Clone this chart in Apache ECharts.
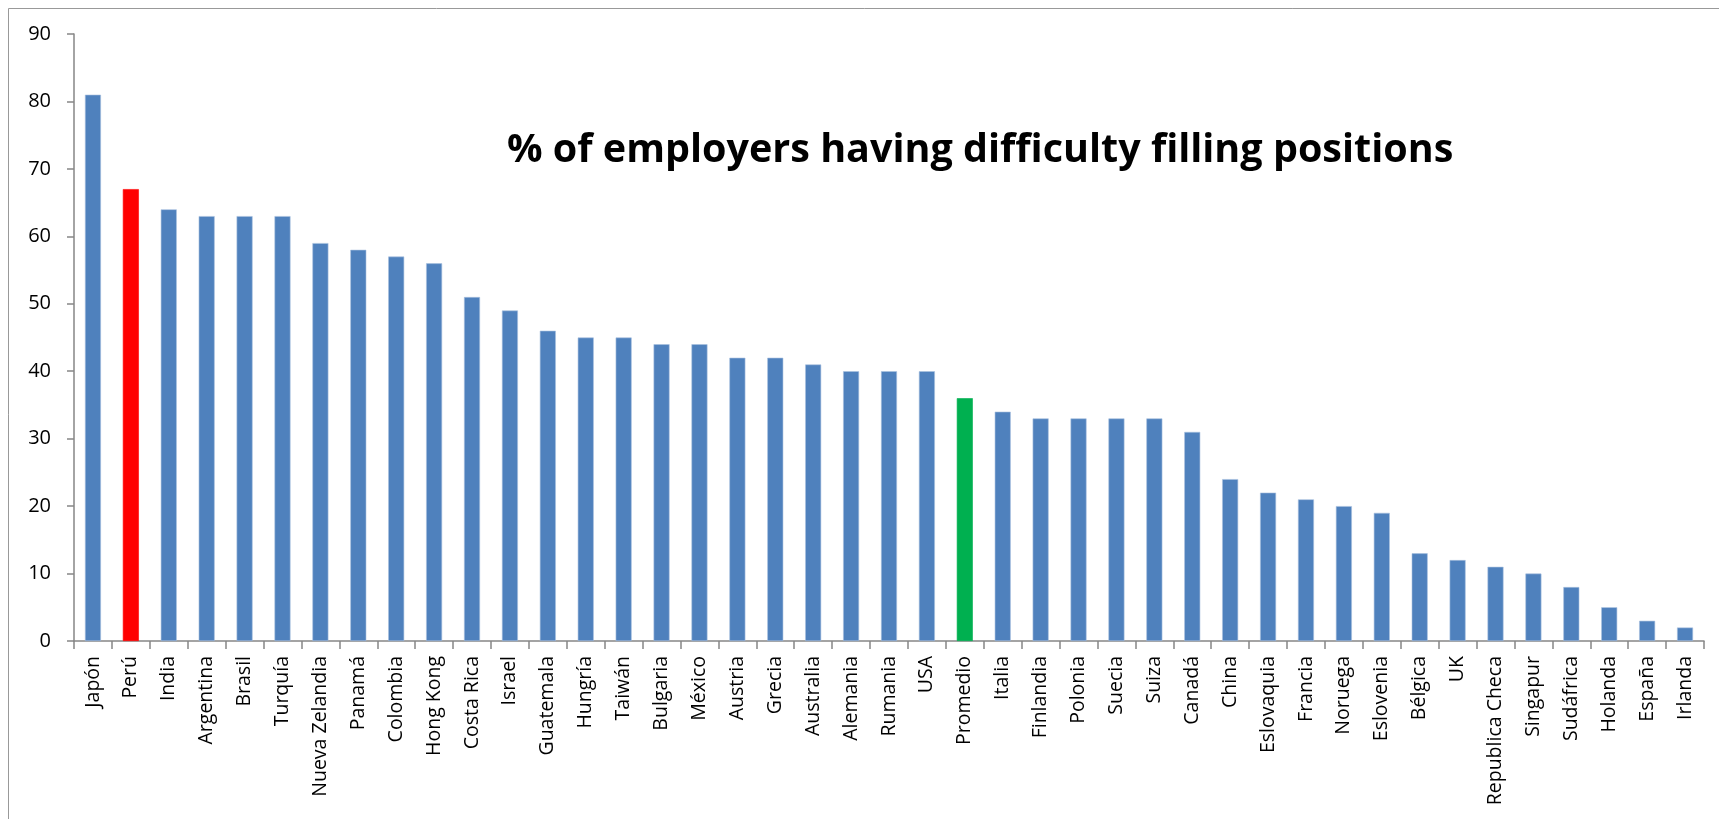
<!DOCTYPE html>
<html>
<head>
<meta charset="utf-8">
<script src="https://cdn.jsdelivr.net/npm/echarts@6/dist/echarts.min.js"></script>
<style>
  html, body { margin: 0; padding: 0; background: #fff; }
  #main { width: 1719px; height: 819px; }
</style>
</head>
<body>
<div id="main"></div>
<script>
// países y porcentajes
var countries = ['Japón', 'Perú', 'India', 'Argentina', 'Brasil', 'Turquía', 'Nueva Zelandia', 'Panamá',
  'Colombia', 'Hong Kong', 'Costa Rica', 'Israel', 'Guatemala', 'Hungría', 'Taiwán', 'Bulgaria', 'México',
  'Austria', 'Grecia', 'Australia', 'Alemania', 'Rumania', 'USA', 'Promedio', 'Italia', 'Finlandia',
  'Polonia', 'Suecia', 'Suiza', 'Canadá', 'China', 'Eslovaquia', 'Francia', 'Noruega', 'Eslovenia',
  'Bélgica', 'UK', 'Republica Checa', 'Singapur', 'Sudáfrica', 'Holanda', 'España', 'Irlanda'];
var values = [81, 67, 64, 63, 63, 63, 59, 58, 57, 56, 51, 49, 46, 45, 45, 44, 44, 42, 42, 41, 40, 40, 40,
  36, 34, 33, 33, 33, 33, 31, 24, 22, 21, 20, 19, 13, 12, 11, 10, 8, 5, 3, 2];
var highlight = { 'Perú': '#FF0000', 'Promedio': '#00B050' };
var titleText = '% of employers having difficulty filling positions';

var myChart = echarts.init(document.getElementById('main'));

var barData = countries.map(function (c, i) {
  var d = { value: values[i] };
  if (highlight[c]) {
    d.itemStyle = { color: highlight[c], borderColor: highlight[c] };
  }
  return d;
});

var option = {
  animation: false,
  textStyle: { fontFamily: 'Open Sans' },
  graphic: [
    {
      type: 'rect',
      shape: { x: 8.5, y: 8.5, width: 1730, height: 830 },
      style: { fill: 'none', stroke: '#999', lineWidth: 1 },
      silent: true
    },
    {
      type: 'text',
      left: 507,
      top: 131,
      style: {
        text: titleText,
        fontFamily: 'Open Sans',
        fontWeight: 'bold',
        fontSize: 39.5,
        fill: '#000'
      }
    }
  ],
  grid: { left: 74, right: 15, top: 34, bottom: 178, containLabel: false },
  xAxis: {
    type: 'category',
    data: countries,
    axisLine: { lineStyle: { color: '#868686', width: 1.5 } },
    axisTick: { show: true, length: 8, lineStyle: { color: '#868686', width: 1.5 } },
    axisLabel: {
      rotate: 90,
      interval: 0,
      margin: 15,
      color: '#000',
      fontSize: 19.5,
      fontFamily: 'Open Sans'
    }
  },
  yAxis: {
    type: 'value',
    min: 0,
    max: 90,
    interval: 10,
    splitLine: { show: false },
    axisLine: { show: true, lineStyle: { color: '#868686', width: 1.5 } },
    axisTick: { show: true, length: 7, lineStyle: { color: '#868686', width: 1.5 } },
    axisLabel: { margin: 23, color: '#000', fontSize: 20, fontFamily: 'Open Sans' }
  },
  series: [
    {
      type: 'bar',
      data: barData,
      barWidth: 16,
      itemStyle: { color: '#4F81BD', borderColor: '#A9C1DF', borderWidth: 0.6 }
    }
  ]
};

myChart.setOption(option);
window.addEventListener('resize', myChart.resize);
</script>
</body>
</html>
